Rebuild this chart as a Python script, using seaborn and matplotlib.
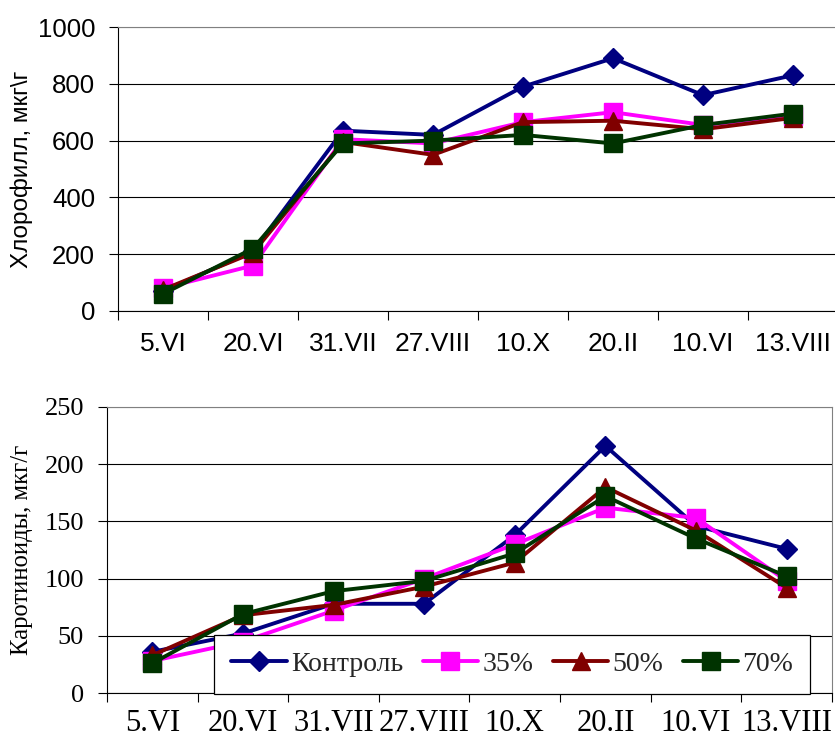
import matplotlib
matplotlib.use("Agg")
import matplotlib.pyplot as plt
import seaborn as sns

# ---- data ----
dates = ["5.VI", "20.VI", "31.VII", "27.VIII", "10.X", "20.II", "10.VI", "13.VIII"]
series_names = ["Контроль", "35%", "50%", "70%"]

chl_control = [70, 210, 635, 620, 790, 890, 760, 830]
chl_35 = [80, 160, 605, 590, 665, 700, 655, 685]
chl_50 = [75, 205, 595, 550, 665, 670, 640, 680]
chl_70 = [60, 220, 590, 600, 620, 590, 655, 695]

car_control = [36, 52, 78, 78, 138, 216, 146, 126]
car_35 = [28, 45, 72, 100, 130, 162, 153, 98]
car_50 = [33, 68, 77, 93, 114, 180, 142, 92]
car_70 = [26, 69, 89, 98, 122, 172, 135, 102]

chl_ticks = [0, 200, 400, 600, 800, 1000]
car_ticks = [0, 50, 100, 150, 200, 250]

colors = ["#000080", "#FF00FF", "#800000", "#003300"]
markers = ["D", "s", "^", "s"]
msizes = [10, 12.5, 12.5, 12.5]

sns.set_style("white")

fig = plt.figure(figsize=(8.35, 7.42), dpi=100)
ax1 = fig.add_axes([0.1413, 0.5809, 0.8623, 0.3827])
ax2 = fig.add_axes([0.1281, 0.0660, 0.8683, 0.3855])


def draw(ax, data, family, ytick_fs, xtick_fs, ylabel, ylabel_fs, ticks, xpad, ylabel_x):
    for name, vals, c, m, ms in zip(series_names, data, colors, markers, msizes):
        sns.lineplot(x=dates, y=vals, ax=ax, color=c, marker=m, markersize=ms,
                     markeredgecolor=c, markeredgewidth=1, linewidth=2.8,
                     label=name, sort=False, errorbar=None, legend=False)
    ax.set_xlim(-0.5, len(dates) - 0.5)
    ax.set_ylim(ticks[0], ticks[-1])
    ax.set_yticks(ticks)
    ax.set_yticklabels([str(t) for t in ticks], fontfamily=family, fontsize=ytick_fs)
    ax.set_xticks([i - 0.5 for i in range(len(dates) + 1)])
    ax.set_xticklabels([""] * (len(dates) + 1))
    ax.set_xticks(range(len(dates)), minor=True)
    ax.set_xticklabels(dates, minor=True, fontfamily=family, fontsize=xtick_fs)
    ax.tick_params(axis="x", which="major", length=6.5, width=0.8, direction="out",
                   color="black", bottom=True)
    ax.tick_params(axis="x", which="minor", length=0, pad=xpad, labelcolor="black")
    ax.tick_params(axis="y", which="major", length=6.5, width=0.8, direction="out",
                   color="black", left=True, pad=10, labelcolor="black")
    ax.set_xlabel("")
    ax.set_ylabel(ylabel, fontfamily=family, fontsize=ylabel_fs, color="black")
    ax.yaxis.set_label_coords(ylabel_x, 0.5)
    ax.yaxis.grid(True, color="black", linewidth=0.8)
    ax.xaxis.grid(False)
    ax.set_axisbelow(True)
    gl = ax.get_ygridlines()
    gl[-1].set_color("#808080")
    for s in ["left", "bottom"]:
        ax.spines[s].set_color("black")
        ax.spines[s].set_linewidth(0.8)
    for s in ["top", "right"]:
        ax.spines[s].set_color("#808080")
        ax.spines[s].set_linewidth(0.8)


draw(ax1, [chl_control, chl_35, chl_50, chl_70], "Liberation Sans", 18.5, 19,
     "Хлорофилл, мкг\\г", 17.5, chl_ticks, 15, -0.118)
draw(ax2, [car_control, car_35, car_50, car_70], "Liberation Serif", 19, 22,
     "Каротиноиды, мкг/г", 17.7, car_ticks, 11.5, -0.102)

leg = ax2.legend(loc="center", bbox_to_anchor=(0.6135, 0.1045), bbox_transform=fig.transFigure,
                 ncol=4, frameon=True, fancybox=False, shadow=False,
                 prop={"family": "Liberation Serif", "size": 20},
                 handlelength=2.0, handletextpad=0.15, columnspacing=0.7,
                 borderpad=0.6, numpoints=1, framealpha=1)
leg.get_frame().set_edgecolor("black")
leg.get_frame().set_linewidth(0.9)

fig.savefig("out.png", dpi=100)
